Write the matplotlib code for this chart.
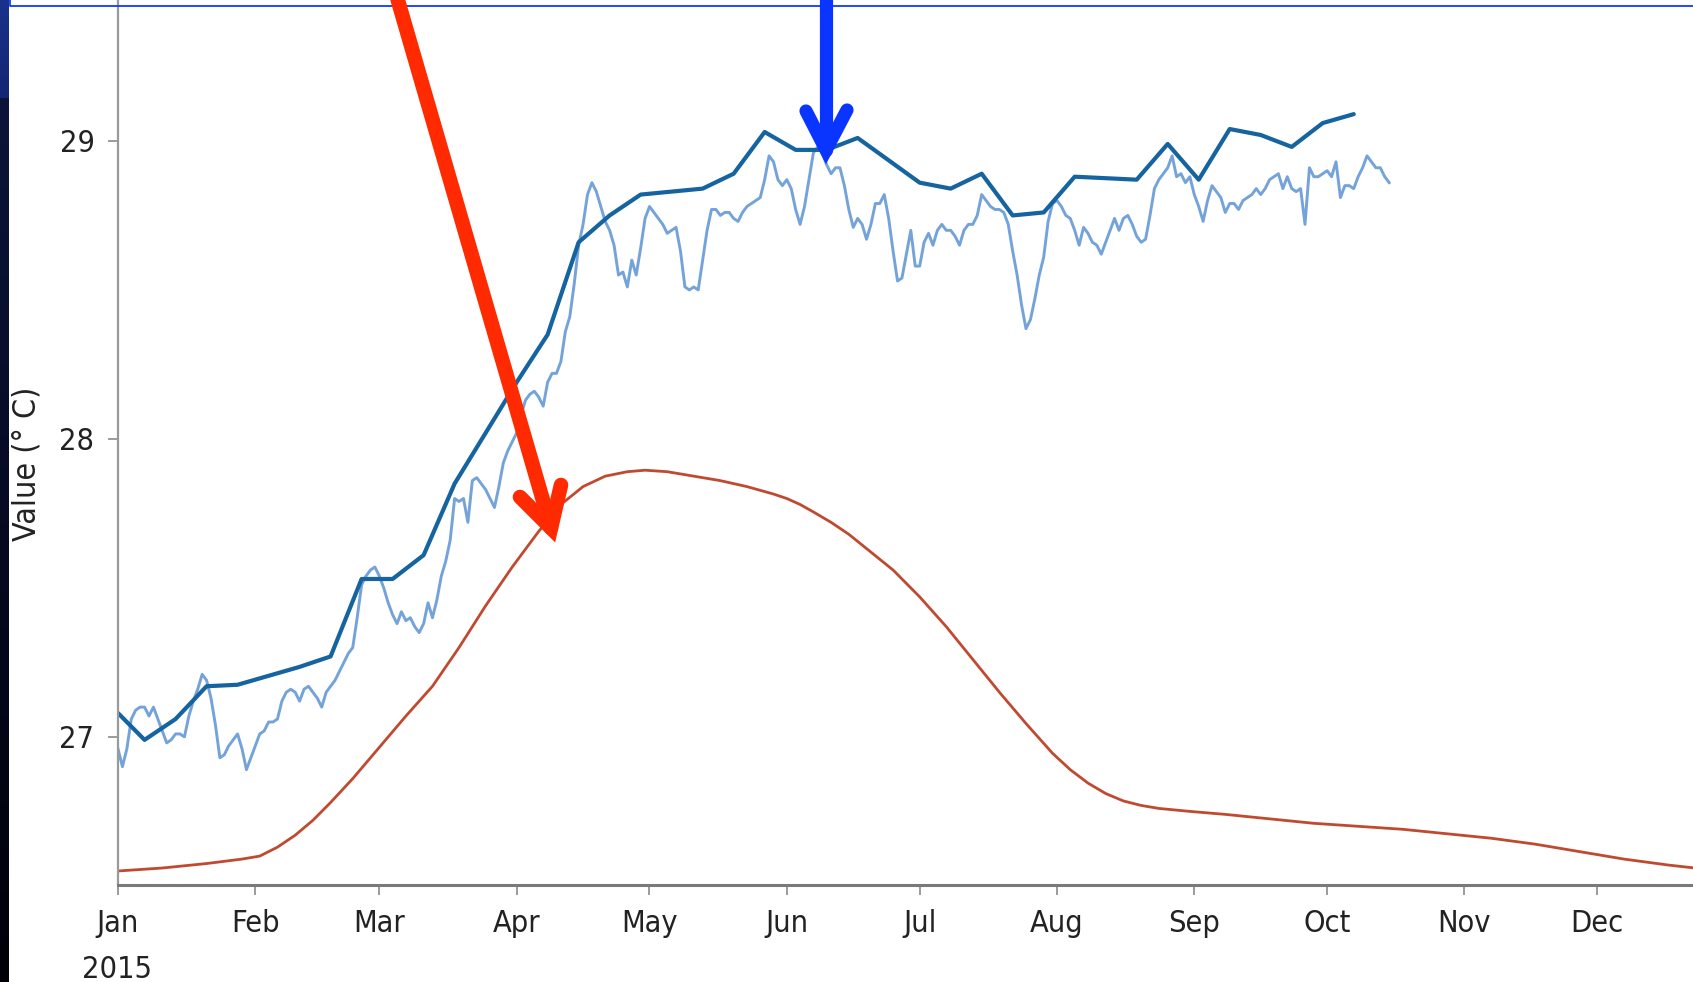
import numpy as np
import pandas as pd
import matplotlib
matplotlib.use('Agg')
import matplotlib.pyplot as plt
import matplotlib.dates as mdates
from matplotlib import font_manager
from matplotlib.lines import Line2D

# narrow sans for all text, whichever is installed
fonts = font_manager.fontManager.ttflist
if any(f.name == 'Liberation Sans Narrow' for f in fonts):
    plt.rcParams['font.family'] = ['Liberation Sans Narrow', 'DejaVu Sans']
    fs = 23
elif any(f.name == 'DejaVu Sans' and str(f.stretch) == 'condensed' for f in fonts):
    plt.rcParams['font.family'] = ['DejaVu Sans']
    plt.rcParams['font.stretch'] = 'condensed'
    fs = 22
else:
    plt.rcParams['font.family'] = ['Liberation Sans', 'DejaVu Sans']
    fs = 20

# weekly mean (dark blue)
weekly_dates = ['2015-01-01'] + [str(d.date()) for d in pd.date_range('2015-01-07', '2015-10-07', freq='7D')]
weekly_vals = [27.08, 26.99, 27.06, 27.17, 27.175, 27.205, 27.235, 27.27, 27.53, 27.53, 27.61,
               27.85, 28.02, 28.19, 28.35, 28.66, 28.75, 28.82, 28.83, 28.84, 28.89,
               29.03, 28.97, 28.97, 29.01, 28.935, 28.86, 28.84, 28.89, 28.75, 28.76,
               28.88, 28.875, 28.87, 28.99, 28.87, 29.04, 29.02, 28.98, 29.06, 29.09]

# daily values (light blue), 1 Jan .. 15 Oct
daily_vals = [
    26.96, 26.90, 26.96, 27.06, 27.09, 27.10, 27.10, 27.07, 27.10, 27.06,
    27.02, 26.98, 26.99, 27.01, 27.01, 27.00, 27.07, 27.12, 27.16, 27.21,
    27.19, 27.13, 27.04, 26.93, 26.94, 26.97, 26.99, 27.01, 26.96, 26.89,
    26.93, 26.97, 27.01, 27.02, 27.05, 27.05, 27.06, 27.12, 27.15, 27.16,
    27.15, 27.12, 27.16, 27.17, 27.15, 27.13, 27.10, 27.15, 27.17, 27.19,
    27.22, 27.25, 27.28, 27.30, 27.40, 27.51, 27.54, 27.56, 27.57, 27.54,
    27.50, 27.45, 27.41, 27.38, 27.42, 27.39, 27.40, 27.37, 27.35, 27.38,
    27.45, 27.40, 27.46, 27.54, 27.59, 27.66, 27.80, 27.79, 27.80, 27.72,
    27.86, 27.87, 27.85, 27.83, 27.80, 27.77, 27.84, 27.92, 27.96, 27.99,
    28.02, 28.08, 28.13, 28.15, 28.16, 28.14, 28.11, 28.19, 28.22, 28.22,
    28.26, 28.36, 28.41, 28.52, 28.65, 28.72, 28.82, 28.86, 28.83, 28.78,
    28.73, 28.70, 28.65, 28.55, 28.56, 28.51, 28.60, 28.55, 28.64, 28.74,
    28.78, 28.76, 28.74, 28.72, 28.69, 28.70, 28.71, 28.63, 28.51, 28.50,
    28.51, 28.50, 28.60, 28.70, 28.77, 28.77, 28.75, 28.76, 28.76, 28.74,
    28.73, 28.76, 28.78, 28.79, 28.80, 28.81, 28.87, 28.95, 28.93, 28.87,
    28.85, 28.87, 28.84, 28.77, 28.72, 28.78, 28.87, 28.96, 28.98, 28.96,
    28.92, 28.89, 28.91, 28.91, 28.85, 28.77, 28.71, 28.74, 28.72, 28.67,
    28.72, 28.79, 28.79, 28.82, 28.74, 28.63, 28.53, 28.54, 28.62, 28.70,
    28.58, 28.58, 28.66, 28.69, 28.65, 28.70, 28.72, 28.70, 28.70, 28.68,
    28.65, 28.70, 28.72, 28.72, 28.75, 28.82, 28.80, 28.78, 28.77, 28.77,
    28.76, 28.72, 28.63, 28.55, 28.45, 28.37, 28.40, 28.47, 28.55, 28.61,
    28.73, 28.79, 28.80, 28.78, 28.75, 28.74, 28.70, 28.65, 28.71, 28.69,
    28.66, 28.65, 28.62, 28.66, 28.70, 28.74, 28.70, 28.74, 28.75, 28.72,
    28.68, 28.66, 28.67, 28.75, 28.84, 28.87, 28.89, 28.91, 28.95, 28.88,
    28.89, 28.86, 28.88, 28.82, 28.78, 28.73, 28.80, 28.85, 28.83, 28.81,
    28.76, 28.79, 28.79, 28.77, 28.80, 28.81, 28.82, 28.84, 28.82, 28.84,
    28.87, 28.88, 28.89, 28.84, 28.88, 28.84, 28.83, 28.84, 28.72, 28.91,
    28.88, 28.88, 28.89, 28.90, 28.88, 28.93, 28.81, 28.85, 28.85, 28.84,
    28.88, 28.91, 28.95, 28.93, 28.91, 28.91, 28.88, 28.86]

# climatology (red), day of year -> value
clim_days = [0, 10, 20, 28, 32, 36, 40, 44, 48, 53, 59, 65, 71, 77, 83, 89, 95, 100, 105,
             110, 115, 119, 124, 130, 136, 142, 148, 151, 154, 157, 161, 165, 170, 175, 181,
             187, 193, 199, 205, 211, 215, 219, 223, 227, 231, 235, 242, 250, 260, 270, 280,
             290, 300, 310, 320, 330, 340, 350, 356]
clim_vals = [26.55, 26.56, 26.575, 26.59, 26.60, 26.63, 26.67, 26.72, 26.78, 26.86,
             26.965, 27.07, 27.17, 27.30, 27.44, 27.57, 27.69, 27.78, 27.84, 27.875,
             27.89, 27.895, 27.89, 27.875, 27.86, 27.84, 27.815, 27.80, 27.78, 27.755,
             27.72, 27.68, 27.62, 27.56, 27.47, 27.37, 27.26, 27.15, 27.045, 26.945,
             26.89, 26.845, 26.81, 26.785, 26.77, 26.76, 26.75, 26.74, 26.725, 26.71,
             26.70, 26.69, 26.675, 26.66, 26.64, 26.615, 26.59, 26.57, 26.56]

W, H = 1693, 982
fig = plt.figure(figsize=(W / 100, H / 100), dpi=100)
fig.patch.set_facecolor('white')

start = pd.Timestamp('2015-01-01')
x0 = mdates.date2num(start)

ax = fig.add_axes([118 / W, (H - 885) / H, 1 - 118 / W, 885 / H])

xw = mdates.date2num(pd.to_datetime(weekly_dates))
xd = mdates.date2num(pd.date_range(start, periods=len(daily_vals), freq='D'))
xc = x0 + np.array(clim_days)

ax.plot(xc, clim_vals, color='#bf4a30', lw=2.0, solid_capstyle='round', solid_joinstyle='round')
ax.plot(xd, daily_vals, color='#74a3da', lw=2.1, solid_joinstyle='round')
ax.plot(xw, weekly_vals, color='#15649f', lw=3.0, solid_joinstyle='round', solid_capstyle='round')

ax.set_xlim(x0, x0 + 355.6)
ax.set_ylim(26.503, 29.473)
ax.set_yticks([27, 28, 29])
ax.xaxis.set_major_locator(mdates.MonthLocator())
ax.xaxis.set_major_formatter(mdates.DateFormatter('%b'))

for s in ['top', 'right']:
    ax.spines[s].set_visible(False)
ax.spines['left'].set_color('#9a9a9a')
ax.spines['left'].set_linewidth(1.6)
ax.spines['bottom'].set_color('#7a7a7a')
ax.spines['bottom'].set_linewidth(2.2)
ax.tick_params(axis='both', direction='out', length=7, width=1.2, color='#8a8a8a',
               labelsize=fs, labelcolor='#222222', pad=10)

# axis title and year, placed in figure pixels
fig.text(27 / W, 1 - 464 / H, 'Value (° C)', rotation=90, fontsize=fs + 1, color='#222222',
         ha='center', va='center')
fig.text(117 / W, 1 - 969 / H, '2015', fontsize=fs, color='#222222', ha='center', va='center')

# dark slide edge on the left
strip = fig.add_axes([0, 0, 9 / W, 1])
rows = np.zeros((H, 1, 3))
top = 98
rows[:top, 0] = np.linspace(0, 1, top)[:, None] * (np.array([20, 38, 115]) - np.array([26, 50, 140])) + np.array([26, 50, 140])
rows[top:, 0] = np.linspace(0, 1, H - top)[:, None] * (np.array([0, 0, 8]) - np.array([12, 20, 58])) + np.array([12, 20, 58])
strip.imshow(rows / 255, aspect='auto', extent=[0, 1, 0, 1], interpolation='bilinear')
strip.axis('off')


def px(x, y):
    return x / W, 1 - y / H


# blue frame edge along the top
fig.add_artist(Line2D(*zip(px(10, 0), px(10, 6), px(W, 6)), transform=fig.transFigure,
                      color='#0b3bff', lw=1.3))

# red arrow
red = '#ff2a00'
fig.add_artist(Line2D(*zip(px(392, -20), px(551, 528)), transform=fig.transFigure,
                      color=red, lw=10.5, solid_capstyle='round'))
fig.add_artist(Line2D(*zip(px(520, 497), px(551, 528), px(561, 485)), transform=fig.transFigure,
                      color=red, lw=10.5, solid_capstyle='round', solid_joinstyle='miter'))

# blue arrow
blue = '#0a34ff'
fig.add_artist(Line2D(*zip(px(826, -20), px(826, 150)), transform=fig.transFigure,
                      color=blue, lw=9.5, solid_capstyle='round'))
fig.add_artist(Line2D(*zip(px(806, 111), px(826, 150), px(847, 110)), transform=fig.transFigure,
                      color=blue, lw=9.5, solid_capstyle='round', solid_joinstyle='miter'))

fig.savefig('out.png', dpi=100)
